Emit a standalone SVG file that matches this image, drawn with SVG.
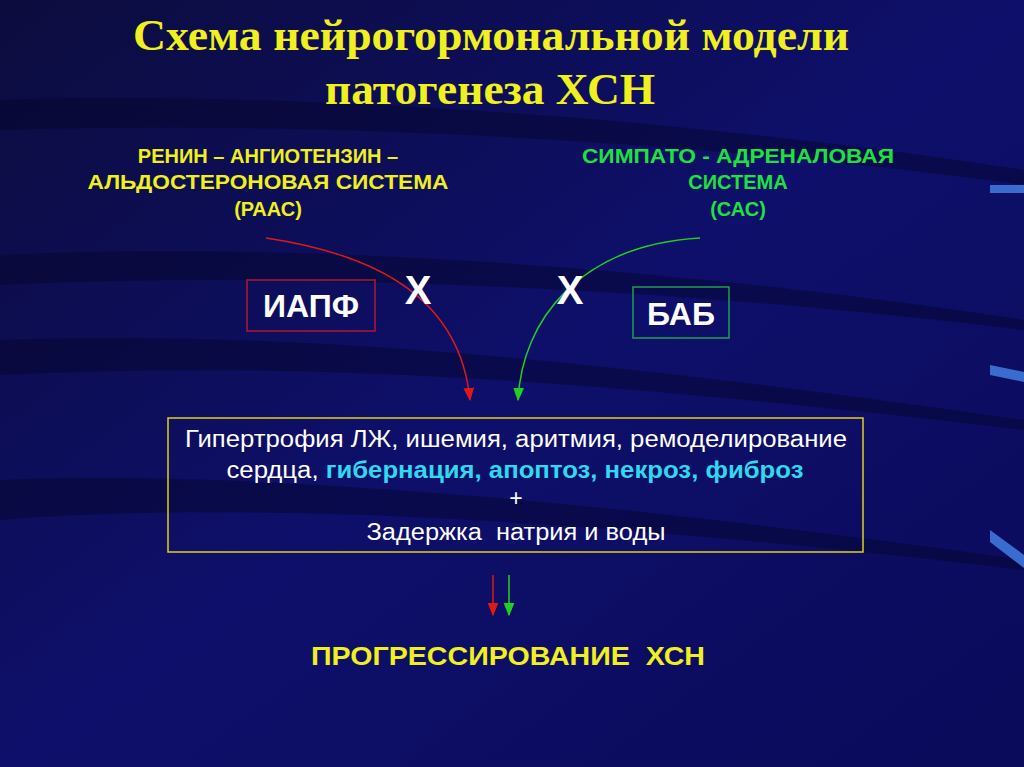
<svg xmlns="http://www.w3.org/2000/svg" width="1024" height="767" viewBox="0 0 1024 767">
<defs>
<linearGradient id="bg" x1="0" y1="0" x2="1" y2="1">
<stop offset="0" stop-color="#0c0c3e"/><stop offset="0.5" stop-color="#0e0f6a"/><stop offset="1" stop-color="#0a0b5a"/>
</linearGradient>
<marker id="ar" viewBox="0 0 10 10" refX="9" refY="5" markerWidth="9" markerHeight="9" orient="auto"><path d="M0,1 L10,5 L0,9 z" fill="#e01818"/></marker>
<marker id="ag" viewBox="0 0 10 10" refX="9" refY="5" markerWidth="9" markerHeight="9" orient="auto"><path d="M0,1 L10,5 L0,9 z" fill="#20d020"/></marker>
<style>
.t{font-family:"Liberation Sans",Arial,sans-serif}
.h{font-weight:bold;font-size:20px}
.b{font-weight:bold;font-size:32px;fill:#fff}
.x{font-weight:bold;font-size:40px;fill:#fff}
.w{font-size:23px;fill:#fff}
.c{font-weight:bold;fill:#30d8f0}
.ti{font-family:"Liberation Serif",serif;font-weight:bold;font-size:44px;fill:#f0f020}
</style>
</defs>
<rect width="1024" height="767" fill="url(#bg)"/>
<g opacity="0.45" fill="#05052a">
<path d="M0,100 C300,90 700,120 1024,170 L1024,185 C700,140 300,120 0,130 z"/>
<path d="M0,255 C300,240 700,270 1024,320 L1024,330 C700,290 300,270 0,285 z"/>
<path d="M0,340 C300,330 600,360 1024,420 L1024,430 C600,380 300,360 0,375 z"/>
<path d="M0,480 C250,470 600,500 1024,560 L1024,570 C600,520 250,500 0,520 z"/>
</g>
<g fill="#3a6cd0">
<rect x="990" y="185" width="34" height="8"/>
<path d="M990,365 L1024,372 L1024,382 L990,375 z"/>
<path d="M990,530 L1024,555 L1024,568 L990,542 z"/>
</g>
<g id="title">
<text class="ti" x="491" y="50" text-anchor="middle" textLength="716" lengthAdjust="spacingAndGlyphs">Схема нейрогормональной модели</text>
<text class="ti" x="490" y="104" text-anchor="middle" textLength="330" lengthAdjust="spacingAndGlyphs">патогенеза ХСН</text>
</g>
<g id="raas" class="t h" fill="#f0f020" text-anchor="middle">
<text x="268" y="163">РЕНИН – АНГИОТЕНЗИН –</text>
<text x="268" y="189" textLength="361" lengthAdjust="spacingAndGlyphs">АЛЬДОСТЕРОНОВАЯ СИСТЕМА</text>
<text x="268" y="216">(РААС)</text>
</g>
<g id="sas" class="t h" fill="#20e040" text-anchor="middle">
<text x="738" y="163" textLength="312" lengthAdjust="spacingAndGlyphs">СИМПАТО - АДРЕНАЛОВАЯ</text>
<text x="738" y="189">СИСТЕМА</text>
<text x="738" y="216">(САС)</text>
</g>
<g id="connectors" fill="none" stroke-width="1.5">
<path d="M266,238 C380,255 460,300 470,400" stroke="#e01818" marker-end="url(#ar)"/>
<path d="M700,238 C580,245 522,320 518,400" stroke="#20d020" marker-end="url(#ag)"/>
<line x1="493" y1="575" x2="493" y2="615" stroke="#e01818" marker-end="url(#ar)"/>
<line x1="509" y1="575" x2="509" y2="615" stroke="#20d020" marker-end="url(#ag)"/>
</g>
<g id="iapf"><rect x="247" y="280" width="128" height="51" fill="none" stroke="#b01830" stroke-width="1.5"/><text class="t b" x="311" y="317" text-anchor="middle">ИАПФ</text></g>
<g id="x1"><text class="t x" x="418" y="304" text-anchor="middle">Х</text></g>
<g id="x2"><text class="t x" x="570" y="304" text-anchor="middle">Х</text></g>
<g id="bab"><rect x="633" y="287" width="96" height="51" fill="none" stroke="#20a050" stroke-width="1.5"/><text class="t b" x="681" y="325" text-anchor="middle">БАБ</text></g>
<g id="effects">
<rect x="168" y="418" width="695" height="134" fill="none" stroke="#e0d020" stroke-width="1.5"/>
<text class="t w" x="516" y="447" text-anchor="middle" textLength="662" lengthAdjust="spacingAndGlyphs">Гипертрофия ЛЖ, ишемия, аритмия, ремоделирование</text>
<text class="t w" x="515" y="478" text-anchor="middle" textLength="577" lengthAdjust="spacingAndGlyphs">сердца, <tspan class="c">гибернация, апоптоз, некроз, фиброз</tspan></text>
<text class="t w" x="516" y="506" text-anchor="middle">+</text>
<text class="t w" x="516" y="540" text-anchor="middle" textLength="299" lengthAdjust="spacingAndGlyphs" xml:space="preserve">Задержка  натрия и воды</text>
</g>
<g id="progress"><text class="t" x="508" y="665" text-anchor="middle" font-weight="bold" font-size="25" fill="#f0f020" textLength="394" lengthAdjust="spacingAndGlyphs" xml:space="preserve">ПРОГРЕССИРОВАНИЕ  ХСН</text></g>
</svg>
